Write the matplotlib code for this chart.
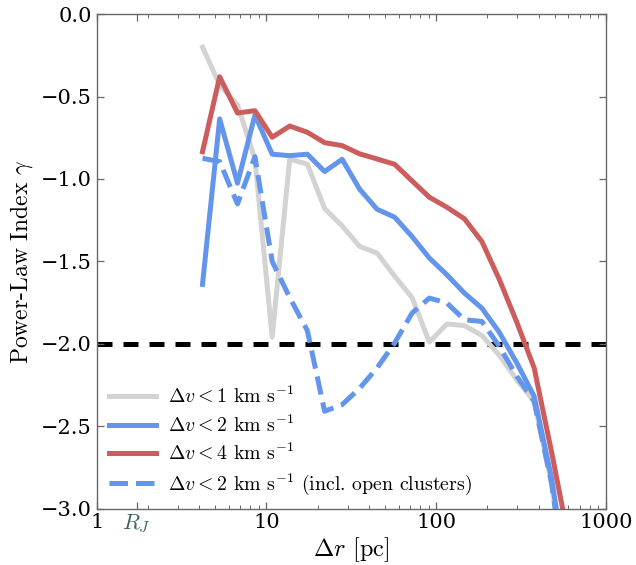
import numpy as np
import matplotlib
matplotlib.use("Agg")
import matplotlib.pyplot as plt
from matplotlib.ticker import FixedLocator, FixedFormatter, LogLocator, NullFormatter

plt.rcParams['mathtext.fontset'] = 'cm'
plt.rcParams['font.family'] = ['DejaVu Serif']
plt.rcParams['axes.unicode_minus'] = True

# separation bins (pc)
dr = [4.2, 5.3, 6.75, 8.55, 10.8, 13.7, 17.4, 22.0, 27.9, 35.4, 44.8,
      56.8, 72.0, 91.0, 115.5, 146.5, 185.5, 235.0, 298.0, 377.0, 478.0, 605.0]

gamma_dv1 = [-0.20, -0.43, -0.55, -0.88, -1.96, -0.88, -0.91, -1.18, -1.285, -1.41, -1.45,
             -1.59, -1.72, -1.99, -1.88, -1.89, -1.95, -2.07, -2.22, -2.35, -2.85, -3.6]
gamma_dv2 = [-1.64, -0.636, -1.026, -0.612, -0.85, -0.859, -0.85, -0.955, -0.881, -1.063, -1.184,
             -1.232, -1.35, -1.48, -1.582, -1.693, -1.784, -1.931, -2.117, -2.319, -2.82, -3.5]
gamma_dv4 = [-0.835, -0.38, -0.60, -0.586, -0.747, -0.679, -0.717, -0.78, -0.798, -0.848, -0.879,
             -0.911, -1.012, -1.111, -1.172, -1.242, -1.38, -1.61, -1.87, -2.147, -2.66, -3.2]
gamma_dv2_oc = [-0.875, -0.895, -1.152, -0.865, -1.50, -1.72, -1.92, -2.41, -2.37, -2.27, -2.147,
                -1.996, -1.814, -1.723, -1.753, -1.855, -1.865, -2.016, -2.198, -2.35, -2.85, -3.6]

labels = [r'$\Delta v < 1$ km s$^{-1}$', r'$\Delta v < 2$ km s$^{-1}$',
          r'$\Delta v < 4$ km s$^{-1}$', r'$\Delta v < 2$ km s$^{-1}$ (incl. open clusters)']
xticks = [1, 1.72, 10, 100, 1000]
xticklabels = ['1', r'$R_J$', '10', '100', '1000']
yticks = [0.0, -0.5, -1.0, -1.5, -2.0, -2.5, -3.0]

fig = plt.figure(figsize=(6.36, 5.65), dpi=100)
ax = fig.add_axes([0.152, 0.100, 0.801, 0.875])

lw = 3.6
ax.plot(dr, gamma_dv1, color='lightgray', lw=lw, label=labels[0])
ax.plot(dr, gamma_dv2, color='cornflowerblue', lw=lw, label=labels[1])
ax.plot(dr, gamma_dv4, color='indianred', lw=lw, label=labels[2])
ax.plot(dr, gamma_dv2_oc, color='cornflowerblue', lw=lw, ls='--', label=labels[3])
ax.axhline(-2.0, color='black', lw=lw, ls='--', dashes=(3, 2.2), zorder=1)

ax.set_xscale('log')
ax.set_xlim(1, 1000)
ax.set_ylim(-3.0, 0.0)
ax.xaxis.set_major_locator(FixedLocator(xticks))
ax.xaxis.set_major_formatter(FixedFormatter(xticklabels))
ax.xaxis.set_minor_locator(LogLocator(base=10, subs=np.arange(2, 10)))
ax.xaxis.set_minor_formatter(NullFormatter())
ax.set_yticks(yticks)
for s in ax.spines.values():
    s.set_color('0.4')
    s.set_linewidth(1.0)
ax.tick_params(which='both', direction='in', top=True, right=True, labelsize=15,
               color='0.4')
ax.tick_params(which='major', length=5, width=0.9)
ax.tick_params(which='minor', length=3, width=0.7)
for t in ax.get_xticklabels():
    if 'R_J' in t.get_text():
        t.set_color('#3a6464')
        t.set_fontsize(16)

ax.set_ylabel(r'Power-Law Index $\gamma$', family='cmr10', fontsize=17)
ax.set_xlabel(r'$\Delta r$ [pc]', family='cmr10', fontsize=17.5, labelpad=0)

leg = ax.legend(loc='lower left', frameon=False, prop={'family': 'cmr10', 'size': 14.3},
                handlelength=2.4, borderaxespad=0.2, labelspacing=0.35, handletextpad=0.6)

fig.savefig('out.png', dpi=100)
